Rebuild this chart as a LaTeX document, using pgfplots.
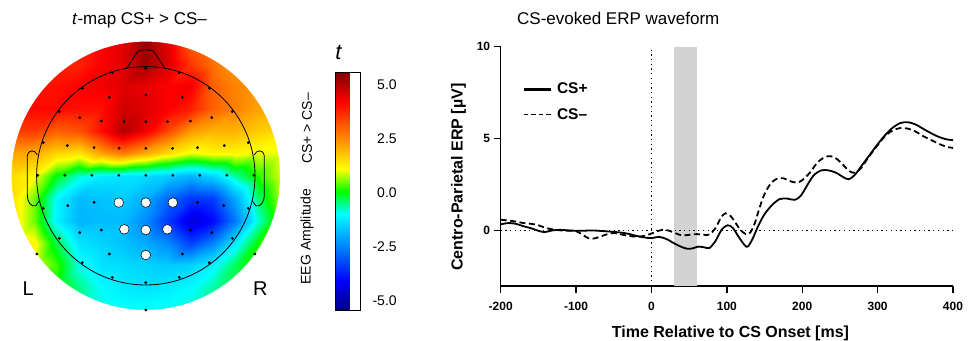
\documentclass[border=0pt]{standalone}
\usepackage{fontspec}
\setmainfont{Liberation Sans}
\usepackage{pgfplots}
\pgfplotsset{compat=1.18}
\usetikzlibrary{calc}
\definecolor{bandgray}{RGB}{211,211,211}
\pgfplotsset{colormap={myjet}{
  rgb255(0pt)=(0,0,128) rgb255(1pt)=(0,0,255)
  rgb255(3.25pt)=(0,255,255) rgb255(4pt)=(0,255,0)
  rgb255(4.75pt)=(255,255,0) rgb255(7pt)=(255,0,0) rgb255(8pt)=(128,0,0)}}

\pgfplotstableread{
x y v
-134.4 134.4 3.5
-112 134.4 3.5
-89.6 134.4 3.8
-67.2 134.4 4.0
-44.8 134.4 4.2
-22.4 134.4 4.5
0 134.4 5.3
22.4 134.4 4.5
44.8 134.4 3.0
67.2 134.4 2.5
89.6 134.4 2.3
112 134.4 2.0
134.4 134.4 2.0
-134.4 112 3.8
-112 112 3.8
-89.6 112 3.8
-67.2 112 3.8
-44.8 112 4.2
-22.4 112 4.5
0 112 5.2
22.4 112 4.6
44.8 112 3.5
67.2 112 2.8
89.6 112 2.3
112 112 2.0
134.4 112 2.0
-134.4 89.6 4.0
-112 89.6 4.0
-89.6 89.6 4.0
-67.2 89.6 4.2
-44.8 89.6 4.3
-22.4 89.6 4.5
0 89.6 4.4
22.4 89.6 4.2
44.8 89.6 4.3
67.2 89.6 3.0
89.6 89.6 2.6
112 89.6 2.3
134.4 89.6 2.2
-134.4 67.2 4.0
-112 67.2 4.1
-89.6 67.2 4.1
-67.2 67.2 4.0
-44.8 67.2 4.0
-22.4 67.2 4.7
0 67.2 4.5
22.4 67.2 4.2
44.8 67.2 3.8
67.2 67.2 3.0
89.6 67.2 2.6
112 67.2 2.2
134.4 67.2 2.0
-134.4 44.8 3.4
-112 44.8 3.5
-89.6 44.8 3.0
-67.2 44.8 3.2
-44.8 44.8 4.0
-22.4 44.8 5.0
0 44.8 4.3
22.4 44.8 3.3
44.8 44.8 2.3
67.2 44.8 2.0
89.6 44.8 2.0
112 44.8 1.7
134.4 44.8 1.5
-134.4 22.4 2.2
-112 22.4 2.1
-89.6 22.4 1.6
-67.2 22.4 1.4
-44.8 22.4 2.2
-22.4 22.4 2.7
0 22.4 2.1
22.4 22.4 1.5
44.8 22.4 1.0
67.2 22.4 1.2
89.6 22.4 1.2
112 22.4 1.0
134.4 22.4 1.0
-134.4 0 1.5
-112 0 1.1
-89.6 0 0.0
-67.2 0 -0.8
-44.8 0 -1.2
-22.4 0 -1.3
0 0 -1.4
22.4 0 -1.6
44.8 0 -1.9
67.2 0 -1.5
89.6 0 -0.6
112 0 0.2
134.4 0 0.9
-134.4 -22.4 1.5
-112 -22.4 0.5
-89.6 -22.4 -1.0
-67.2 -22.4 -1.8
-44.8 -22.4 -1.7
-22.4 -22.4 -1.6
0 -22.4 -2.0
22.4 -22.4 -2.8
44.8 -22.4 -3.4
67.2 -22.4 -3.3
89.6 -22.4 -2.0
112 -22.4 -0.4
134.4 -22.4 0.7
-134.4 -44.8 1.5
-112 -44.8 0.5
-89.6 -44.8 -1.1
-67.2 -44.8 -1.9
-44.8 -44.8 -1.8
-22.4 -44.8 -1.8
0 -44.8 -2.4
22.4 -44.8 -3.4
44.8 -44.8 -4.5
67.2 -44.8 -4.0
89.6 -44.8 -2.6
112 -44.8 -0.8
134.4 -44.8 0.5
-134.4 -67.2 1.4
-112 -67.2 1.2
-89.6 -67.2 -0.2
-67.2 -67.2 -1.3
-44.8 -67.2 -1.5
-22.4 -67.2 -1.7
0 -67.2 -2.0
22.4 -67.2 -2.4
44.8 -67.2 -3.3
67.2 -67.2 -2.5
89.6 -67.2 -1.2
112 -67.2 0.1
134.4 -67.2 0.7
-134.4 -89.6 1.0
-112 -89.6 1.0
-89.6 -89.6 0.3
-67.2 -89.6 -0.9
-44.8 -89.6 -1.3
-22.4 -89.6 -1.4
0 -89.6 -1.5
22.4 -89.6 -1.6
44.8 -89.6 -1.5
67.2 -89.6 -1.1
89.6 -89.6 -0.3
112 -89.6 0.3
134.4 -89.6 0.5
-134.4 -112 0.3
-112 -112 0.3
-89.6 -112 0.2
-67.2 -112 -0.5
-44.8 -112 -1.0
-22.4 -112 -1.2
0 -112 -1.3
22.4 -112 -1.2
44.8 -112 -1.0
67.2 -112 -0.6
89.6 -112 -0.2
112 -112 0.0
134.4 -112 0.0
-134.4 -134.4 0.0
-112 -134.4 0.0
-89.6 -134.4 0.0
-67.2 -134.4 -0.5
-44.8 -134.4 -0.8
-22.4 -134.4 -0.9
0 -134.4 -0.9
22.4 -134.4 -0.9
44.8 -134.4 -0.8
67.2 -134.4 -0.5
89.6 -134.4 0.0
112 -134.4 0.0
134.4 -134.4 0.0
}\topo

\begin{document}
\begin{tikzpicture}
\useasboundingbox (0,0) rectangle (969pt,340pt);

% ---------------- topographic map ----------------
\begin{axis}[
  at={(145.8pt,164.2pt)}, anchor=center,
  x=1pt, y=1pt,
  xmin=-134.4, xmax=134.4, ymin=-134.4, ymax=134.4,
  hide axis, clip=false,
  colormap name=myjet,
  point meta min=-5.45, point meta max=5.55,
  colorbar,
  colorbar style={
    at={($(parent axis.north east)+(46.5pt,-30.9pt)$)}, anchor=north west,
    scale only axis, width=25pt, height=238.4pt,
    ytick={-5,-2.5,0,2.5,5},
    major tick length=0pt,
    axis line style={line width=0.6pt},
    /pgf/number format/assume math mode=true,
    yticklabel style={font=\fontsize{14}{16}\selectfont, anchor=east, xshift=40pt,
      /pgf/number format/.cd, fixed, fixed zerofill, precision=1},
  },
]
\addplot[surf, shader=interp, mesh/cols=13, point meta=explicit] table[x=x, y=y, meta=v] {\topo};
\fill[white, even odd rule] (axis cs:-136,-136) rectangle (axis cs:136,136) (axis cs:0,0) circle [radius=134.2];
% head outline
\draw[line width=0.8pt] (axis cs:0,0) circle [radius=109.2];
\draw[line width=0.8pt] (axis cs:-19,107.5) -- (axis cs:-8,124.5) .. controls (axis cs:-4,126.5) and (axis cs:4,126.5) .. (axis cs:8,124.5) -- (axis cs:19,107.5);
\draw[line width=0.8pt] (axis cs:-108.5,21) .. controls (axis cs:-111,26) and (axis cs:-117,27) .. (axis cs:-118.5,20) -- (axis cs:-118.5,-18) .. controls (axis cs:-118.5,-27) and (axis cs:-115,-31) .. (axis cs:-110,-30) -- (axis cs:-106.5,-25);
\draw[line width=0.8pt] (axis cs:108.5,21) .. controls (axis cs:111,26) and (axis cs:117,27) .. (axis cs:118.5,20) -- (axis cs:118.5,-18) .. controls (axis cs:118.5,-27) and (axis cs:115,-31) .. (axis cs:110,-30) -- (axis cs:106.5,-25);
% electrodes
\addplot[only marks, mark=*, mark size=1.2pt, black] coordinates {
(-33.5,103.2) (0,107.5) (33.5,103.2)
(-63.5,87.5) (63.5,87.5)
(-36.5,78.5) (0,80.8) (36.5,78.5)
(-86.5,64.2) (86.5,64.2)
(-66,58.2) (-44.5,54.8) (-21.7,54.2) (0,54.2) (21.7,54.2) (44.5,54.8) (66,58.2)
(-102.5,33.2) (-78.5,30.2) (-51.7,28.2) (-26.7,27.5) (0,27.5) (26.7,27.5) (51.7,28.2) (78.5,30.2) (102.5,33.2)
(-108,0.5) (-81,0.5) (-54,0.5) (-27,0.5) (0,0.5) (27,0.5) (54,0.5) (81,0.5) (108,0.5)
(-102.5,-32.5) (-78,-29.8) (-51.7,-26.5) (51.7,-26.5) (78,-29.8) (102.5,-32.5)
(-66,-56.8) (-44.5,-54.2) (44.5,-54.2) (66,-56.8)
(-86.5,-62.5) (86.5,-62.5)
(-109,-78.2) (-36.5,-78.2) (36.5,-78.2) (109,-78.2)
(-63.5,-86.8) (63.5,-86.8)
(-33.5,-101.5) (0,-106.8) (33.5,-101.5)
(0,-134.2)
};
\addplot[only marks, mark=*, mark size=4.8pt, mark options={fill=white, draw=black, line width=0.5pt}] coordinates {
(-27,-26.8) (0,-26.8) (27,-26.8)
(-21.5,-53.5) (0,-54.2) (21.5,-53.5)
(0,-79.2)
};
\end{axis}

% texts around the map
\node[anchor=base west, font=\fontsize{17}{20}\selectfont, inner sep=0pt] at (72pt,315.3pt) {\textit{t}-map CS+ > CS–};
\node[anchor=base west, font=\fontsize{20}{24}\selectfont, inner sep=0pt] at (22.5pt,45pt) {L};
\node[anchor=base west, font=\fontsize{20}{24}\selectfont, inner sep=0pt] at (253pt,45pt) {R};
\node[anchor=base, font=\itshape\fontsize{22}{26}\selectfont, inner sep=0pt] at (338.5pt,280pt) {t};
\node[rotate=90, font=\fontsize{14}{16}\selectfont, inner sep=0pt] at (307pt,103.5pt) {EEG Amplitude};
\node[rotate=90, font=\fontsize{14}{16}\selectfont, inner sep=0pt] at (307pt,211.5pt) {CS+ > CS–};

% ---------------- ERP waveform ----------------
\begin{axis}[
  at={(500.7pt,54pt)}, anchor=south west,
  scale only axis, width=452.3pt, height=239.3pt,
  xmin=-200, xmax=400, ymin=-3, ymax=10,
  axis x line*=bottom, axis y line*=left,
  xtick={-200,-100,0,100,200,300,400}, ytick={0,5,10},
  tick align=outside, major tick length=7pt,
  every tick/.style={black, line width=1.3pt},
  axis line style={line width=1.3pt},
  /pgf/number format/assume math mode=true,
  ticklabel style={font=\bfseries\fontsize{12}{14}\selectfont},
  xticklabel style={yshift=-6pt},
  xlabel={Time Relative to CS Onset [ms]},
  ylabel={Centro-Parietal ERP [µV]},
  label style={font=\bfseries\fontsize{16}{19}\selectfont},
  xlabel style={at={(ticklabel cs:0.508)}, yshift=-8pt},
  ylabel style={at={(ticklabel cs:0.455)}},
  ylabel shift=4pt,
  legend style={at={(axis cs:-172,8.15)}, anchor=north west, draw=none, fill=none,
    font=\bfseries\fontsize{15.5}{17}\selectfont, row sep=9pt, column sep=3pt, inner sep=0pt,
    nodes={inner sep=2pt}},
  legend cell align=left,
]
\addplot[forget plot, draw=none, fill=bandgray] coordinates {(30,-3) (60,-3) (60,10) (30,10)} -- cycle;
\addplot[forget plot, black, line width=1.3pt, dash pattern=on 1.3pt off 3.4pt] coordinates {(-200,0) (400,0)};
\addplot[forget plot, black, line width=1.3pt, dash pattern=on 1.3pt off 3.4pt] coordinates {(0,-3) (0,10)};
\addplot[black, line width=1.8pt, smooth, tension=0.5,
  legend image code/.code={\draw[black, line width=3pt] (0pt,0pt) -- (27pt,0pt);}] coordinates {
(-200,0.35) (-190,0.42) (-180,0.38) (-170,0.25) (-160,0.14) (-150,0.0) (-142,-0.07) (-130,0.03) (-120,0.05) (-110,0.02) (-100,0.0) (-90,0.0) (-80,0.02) (-70,0.0) (-60,-0.03) (-50,-0.06) (-40,-0.1) (-30,-0.17) (-20,-0.28) (-10,-0.36) (0,-0.4) (10,-0.33) (20,-0.45) (30,-0.68) (40,-0.88) (48,-0.98) (55,-0.95) (62,-0.86) (70,-0.9) (77,-0.93) (85,-0.55) (93,0.05) (101,0.3) (108,0.15) (116,-0.35) (124,-0.8) (128,-0.85) (134,-0.45) (142,0.3) (150,0.9) (160,1.4) (170,1.72) (180,1.75) (190,1.68) (198,1.9) (207,2.5) (215,3.0) (225,3.28) (235,3.28) (245,3.15) (255,2.9) (262,2.8) (270,3.05) (280,3.6) (290,4.15) (300,4.7) (310,5.2) (320,5.6) (330,5.85) (340,5.9) (350,5.78) (360,5.55) (370,5.32) (380,5.12) (390,4.98) (400,4.92)
};
\addlegendentry{CS+}
\addplot[black, line width=1.8pt, dash pattern=on 6pt off 3.5pt, smooth, tension=0.5,
  legend image code/.code={\draw[black, line width=1.5pt, dash pattern=on 4.5pt off 3pt] (0pt,0pt) -- (27pt,0pt);}] coordinates {
(-200,0.6) (-190,0.56) (-180,0.5) (-170,0.42) (-160,0.38) (-150,0.3) (-140,0.15) (-130,0.07) (-120,0.02) (-110,0.0) (-100,-0.02) (-92,-0.2) (-84,-0.4) (-78,-0.43) (-70,-0.35) (-60,-0.2) (-50,-0.12) (-40,-0.2) (-30,-0.28) (-20,-0.32) (-10,-0.28) (0,-0.15) (8,-0.02) (15,0.05) (22,0.02) (30,-0.1) (40,-0.25) (50,-0.22) (60,-0.18) (70,-0.22) (77,-0.2) (85,0.15) (92,0.7) (98,0.95) (105,0.8) (112,0.4) (118,0.05) (125,-0.18) (131,-0.1) (137,0.4) (143,1.2) (150,2.0) (158,2.55) (166,2.82) (175,2.85) (185,2.68) (193,2.62) (200,2.75) (210,3.15) (220,3.7) (230,4.0) (238,4.05) (246,3.9) (255,3.55) (262,3.25) (270,3.15) (278,3.4) (288,4.0) (300,4.65) (310,5.15) (320,5.45) (330,5.58) (340,5.55) (350,5.4) (360,5.15) (370,4.95) (380,4.75) (390,4.58) (400,4.5)
};
\addlegendentry{CS–}
\end{axis}

\node[anchor=base west, font=\fontsize{17}{20}\selectfont, inner sep=0pt] at (517pt,315.5pt) {CS-evoked ERP waveform};
\end{tikzpicture}
\end{document}
